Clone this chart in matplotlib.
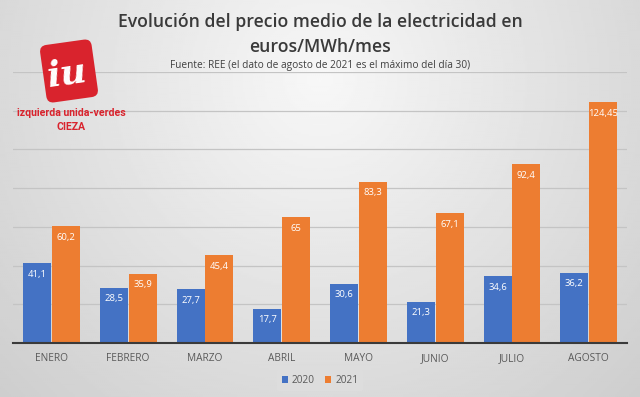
import numpy as np
import matplotlib
matplotlib.use('Agg')
import matplotlib.pyplot as plt
from matplotlib.patches import FancyBboxPatch
import matplotlib.transforms as mtransforms

# data
meses = ['ENERO', 'FEBRERO', 'MARZO', 'ABRIL', 'MAYO', 'JUNIO', 'JULIO', 'AGOSTO']
precio_2020 = [41.1, 28.5, 27.7, 17.7, 30.6, 21.3, 34.6, 36.2]
precio_2021 = [60.2, 35.9, 45.4, 65, 83.3, 67.1, 92.4, 124.45]
etiquetas_2020 = ['41,1', '28,5', '27,7', '17,7', '30,6', '21,3', '34,6', '36,2']
etiquetas_2021 = ['60,2', '35,9', '45,4', '65', '83,3', '67,1', '92,4', '124,45']
series = ['2020', '2021']

plt.rcParams['font.family'] = ['Open Sans', 'DejaVu Sans']

fig = plt.figure(figsize=(6.4, 3.97), dpi=100)

# background gradient (light centre, grey edges)
bg = fig.add_axes([0, 0, 1, 1], zorder=-10)
gx, gy = np.meshgrid(np.linspace(-1, 1, 320), np.linspace(-1, 1, 200))
r = np.sqrt((gx * 0.9) ** 2 + ((gy + 0.6) * 0.55) ** 2)
bg.imshow(0.97 - 0.13 * np.clip(r, 0, 1.3), cmap='gray', vmin=0, vmax=1,
          extent=[0, 1, 0, 1], aspect='auto', origin='upper')
bg.set_axis_off()

ax = fig.add_axes([0.0203, 0.136, 0.9597, 0.6826])
ax.patch.set_alpha(0)

x = np.arange(len(meses))
w = 0.365
b1 = ax.bar(x - w / 2 - 0.005, precio_2020, w, color='#4472C4', label=series[0], zorder=3)
b2 = ax.bar(x + w / 2 + 0.005, precio_2021, w, color='#ED7D31', label=series[1], zorder=3)

for bars, labels in ((b1, etiquetas_2020), (b2, etiquetas_2021)):
    for rect, lab in zip(bars, labels):
        ax.annotate(lab, (rect.get_x() + rect.get_width() / 2, rect.get_height()),
                    xytext=(0, -11), textcoords='offset pixels', ha='center', va='center',
                    color='white', fontsize=6.8, zorder=4)

ax.set_ylim(0, 140)
ax.set_xlim(-0.5, len(meses) - 0.5)
ax.set_yticks(np.arange(20, 141, 20))
ax.yaxis.grid(True, color='#c4c4c4', linewidth=0.9, zorder=0)
ax.tick_params(axis='y', left=False, labelleft=False)
ax.tick_params(axis='x', bottom=False, labelsize=7.3, labelcolor='#595959', pad=4)
ax.set_xticks(x)
ax.set_xticklabels(meses)
for s in ['top', 'right', 'left']:
    ax.spines[s].set_visible(False)
ax.spines['bottom'].set_color('#3a3a3a')
ax.spines['bottom'].set_linewidth(1.5)
ax.spines['bottom'].set_zorder(5)

leg = ax.legend(loc='center', bbox_to_anchor=(0.5, -0.138), ncol=2, frameon=True,
                fontsize=7.3, handlelength=0.6, handleheight=0.6, handletextpad=0.4,
                columnspacing=1.0, borderpad=0.5)
leg.get_frame().set_facecolor('#dedede')
leg.get_frame().set_edgecolor('none')
for t in leg.get_texts():
    t.set_color('#595959')

# titles
fig.text(0.5, 0.945, 'Evolución del precio medio de la electricidad en',
         ha='center', va='center', fontsize=12.7, fontweight='semibold', color='#3a3a3a')
fig.text(0.5, 0.882, 'euros/MWh/mes', ha='center', va='center', fontsize=12.7,
         fontweight='semibold', color='#3a3a3a')
fig.text(0.5, 0.834, 'Fuente: REE (el dato de agosto de 2021 es el máximo del día 30)',
         ha='center', va='center', fontsize=7.3, color='#404040')

# logo
logo = fig.add_axes([0, 0, 1, 1], zorder=5)
logo.set_xlim(0, 640)
logo.set_ylim(397, 0)
logo.set_axis_off()
rot = mtransforms.Affine2D().rotate_deg_around(69, 71, -8) + logo.transData
box = FancyBboxPatch((43, 42), 52, 58, boxstyle='round,pad=0,rounding_size=7',
                     facecolor='#d9232d', edgecolor='none', transform=rot)
logo.add_patch(box)
logo.text(67, 74, 'iu', ha='center', va='center', fontsize=26, fontweight='bold',
          fontstyle='italic', color='white', family='DejaVu Serif', rotation=8)
logo.text(71, 113, 'izquierda unida-verdes', ha='center', va='center', fontsize=7.6,
          fontweight='bold', color='#d9232d', family='Roboto')
logo.text(71, 127, 'CIEZA', ha='center', va='center', fontsize=7.6,
          fontweight='bold', color='#d9232d', family='Roboto')

fig.savefig('out.png', dpi=100)
